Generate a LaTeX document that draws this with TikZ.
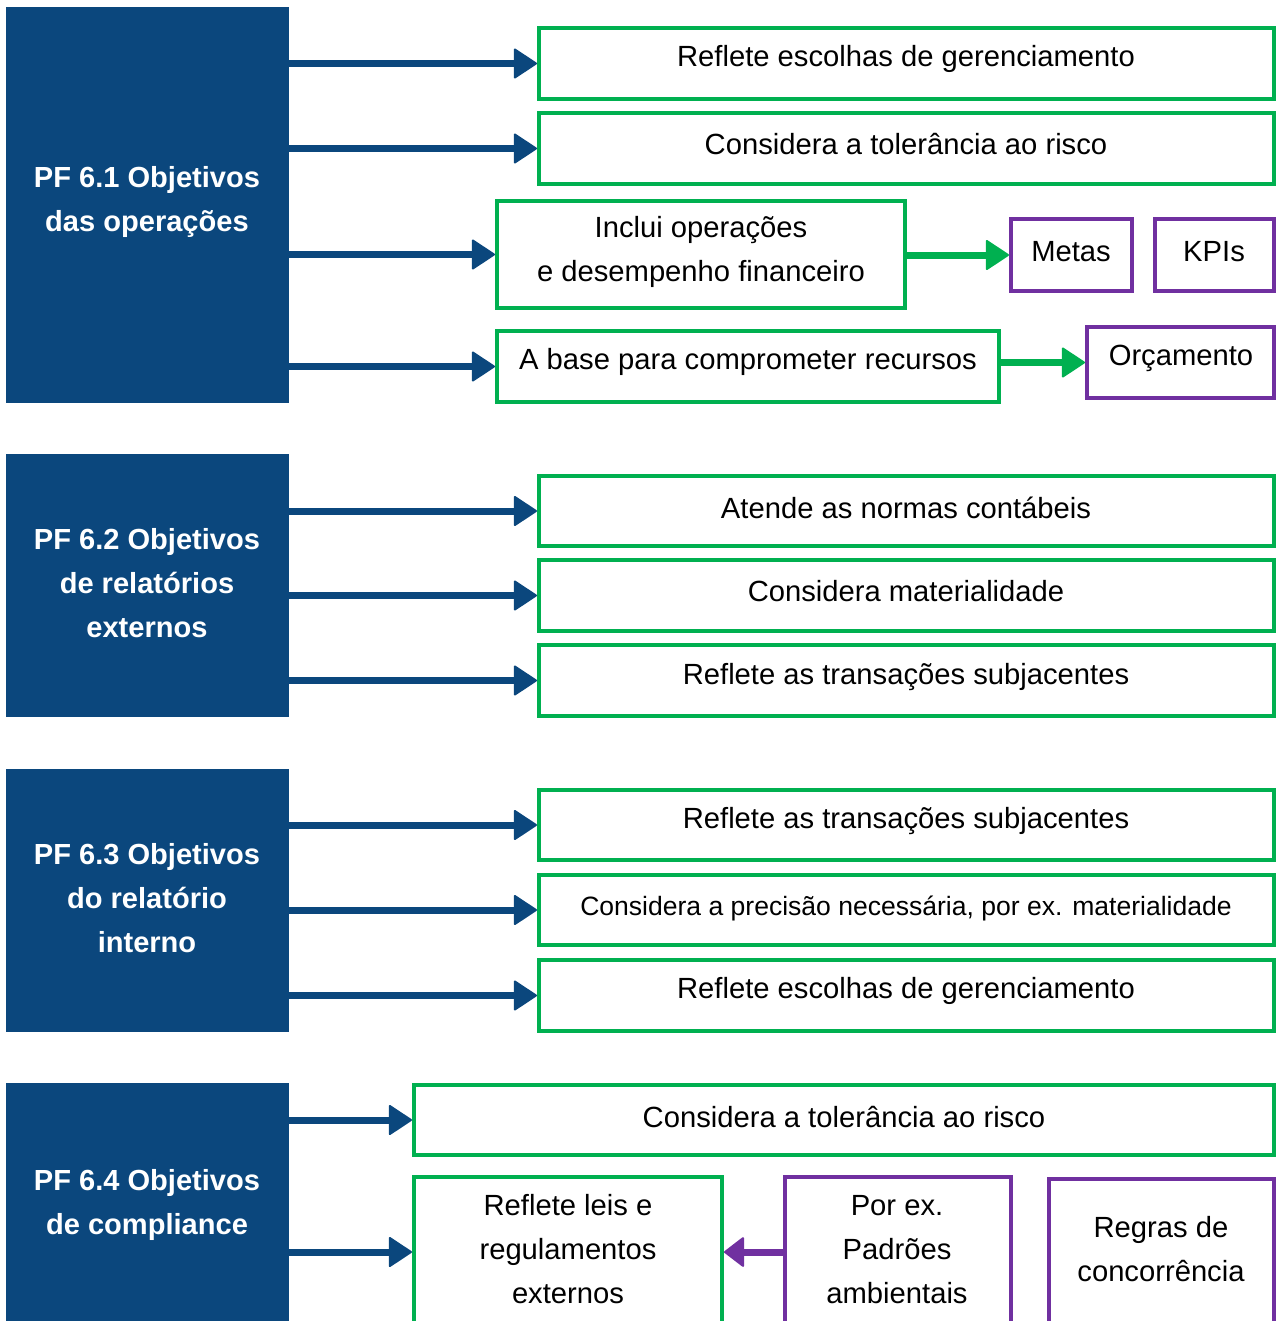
\documentclass[tikz,border=0pt]{standalone}
\usepackage{fontspec}
\setmainfont{Liberation Sans}
\usetikzlibrary{arrows.meta,fit}
\definecolor{pfblue}{HTML}{0B477D}
\definecolor{pfgreen}{HTML}{00B050}
\definecolor{pfpurple}{HTML}{7030A0}
\begin{document}
\begin{tikzpicture}[x=0.75pt,y=-0.75pt,
  pf/.style={fill=pfblue,inner sep=0pt,outer sep=0pt},
  gbox/.style={draw=pfgreen,line width=3pt,inner sep=0pt},
  pbox/.style={draw=pfpurple,line width=3pt,inner sep=0pt},
  txt/.style={font=\fontsize{21.9}{33}\selectfont,align=center,inner sep=0pt,yshift=-1.8pt},
  smalltxt/.style={font=\fontsize{19.9}{33}\selectfont,align=center,inner sep=0pt,yshift=-1pt},
  head/.style={font=\fontsize{21.8}{33}\selectfont\bfseries,text=white,align=center,inner sep=0pt,yshift=-2.5pt},
  link/.style={line width=5.25pt,-{Triangle[length=18pt,width=23.5pt,line width=1.5pt,round]}},
  bluelink/.style={link,draw=pfblue,fill=pfblue},
  greenlink/.style={link,draw=pfgreen,fill=pfgreen},
  purplelink/.style={link,draw=pfpurple,fill=pfpurple,-{Triangle[length=15.5pt,width=23.5pt,line width=1.5pt,round]}}
]
\useasboundingbox (0,0) rectangle (1276,1321);
\clip (0,0) rectangle (1276,1321);

% objective blocks
\node[pf,fit={(6,7) (289,403)}] (b1) {};
\node[pf,fit={(6,454) (289,717)}] (b2) {};
\node[pf,fit={(6,769) (289,1032)}] (b3) {};
\node[pf,fit={(6,1083) (289,1340)}] (b4) {};
\node[head] at (147,199) {PF 6.1 Objetivos\\das operações};
\node[head] at (147,580) {PF 6.2 Objetivos\\de relatórios\\externos};
\node[head] at (147,895) {PF 6.3 Objetivos\\do relatório\\interno};
\node[head] at (147,1202) {PF 6.4 Objetivos\\de compliance};

% PF 6.1
\node[gbox,fit={(539,28) (1274,99)}] (g11) {};
\node[gbox,fit={(539,113) (1274,184)}] (g12) {};
\node[gbox,fit={(497,201) (905,308)}] (g13) {};
\node[gbox,fit={(497,331) (999,402)}] (g14) {};
\node[pbox,fit={(1011,219) (1132,291)}] (metas) {};
\node[pbox,fit={(1155,219) (1274,291)}] (kpis) {};
\node[pbox,fit={(1087,327) (1274,398)}] (orc) {};
\node[txt] at (906,57) {Reflete escolhas de gerenciamento};
\node[txt] at (906,142) {Considera a tolerância ao risco};
\node[txt] at (701,250) {Inclui operações\\e desempenho financeiro};
\node[txt] at (748,360) {A base para comprometer recursos};
\node[txt] at (1071,249) {Metas};
\node[txt] at (1214,249) {KPIs};
\node[txt] at (1181,356) {Orçamento};

% PF 6.2
\node[gbox,fit={(539,476) (1274,546)}] (g21) {};
\node[gbox,fit={(539,560) (1274,631)}] (g22) {};
\node[gbox,fit={(539,645) (1274,716)}] (g23) {};
\node[txt] at (906,505) {Atende as normas contábeis};
\node[txt] at (906,589) {Considera materialidade};
\node[txt] at (906,675) {Reflete as transações subjacentes};

% PF 6.3
\node[gbox,fit={(539,790) (1274,860)}] (g31) {};
\node[gbox,fit={(539,875) (1274,945)}] (g32) {};
\node[gbox,fit={(539,960) (1274,1031)}] (g33) {};
\node[txt] at (906,819) {Reflete as transações subjacentes};
\node[smalltxt] at (906,907) {Considera a precisão necessária, por ex. materialidade};
\node[txt] at (906,989) {Reflete escolhas de gerenciamento};

% PF 6.4
\node[gbox,fit={(414,1085) (1274,1155)}] (g41) {};
\node[gbox,fit={(414,1177) (722,1327)}] (g42) {};
\node[pbox,fit={(785,1177) (1011,1327)}] (pp) {};
\node[pbox,fit={(1049,1179) (1274,1327)}] (rc) {};
\node[txt] at (844,1115) {Considera a tolerância ao risco};
\node[txt] at (568,1247) {Reflete leis e\\regulamentos\\externos};
\node[txt] at (897,1247) {Por ex.\\Padrões\\ambientais};
\node[txt] at (1161,1247) {Regras de\\concorrência};

% connectors
\foreach \s/\t in {b1/g11,b1/g12,b1/g13,b1/g14,b2/g21,b2/g22,b2/g23,b3/g31,b3/g32,b3/g33,b4/g41,b4/g42}
  \draw[bluelink] (\s.east |- \t.west) -- (\t.west);
\draw[greenlink] (g13.east |- metas.west) -- (metas.west);
\draw[greenlink] (g14.east |- orc.west) -- (orc.west);
\draw[purplelink] (pp.west) -- (g42.east);
\end{tikzpicture}
\end{document}
